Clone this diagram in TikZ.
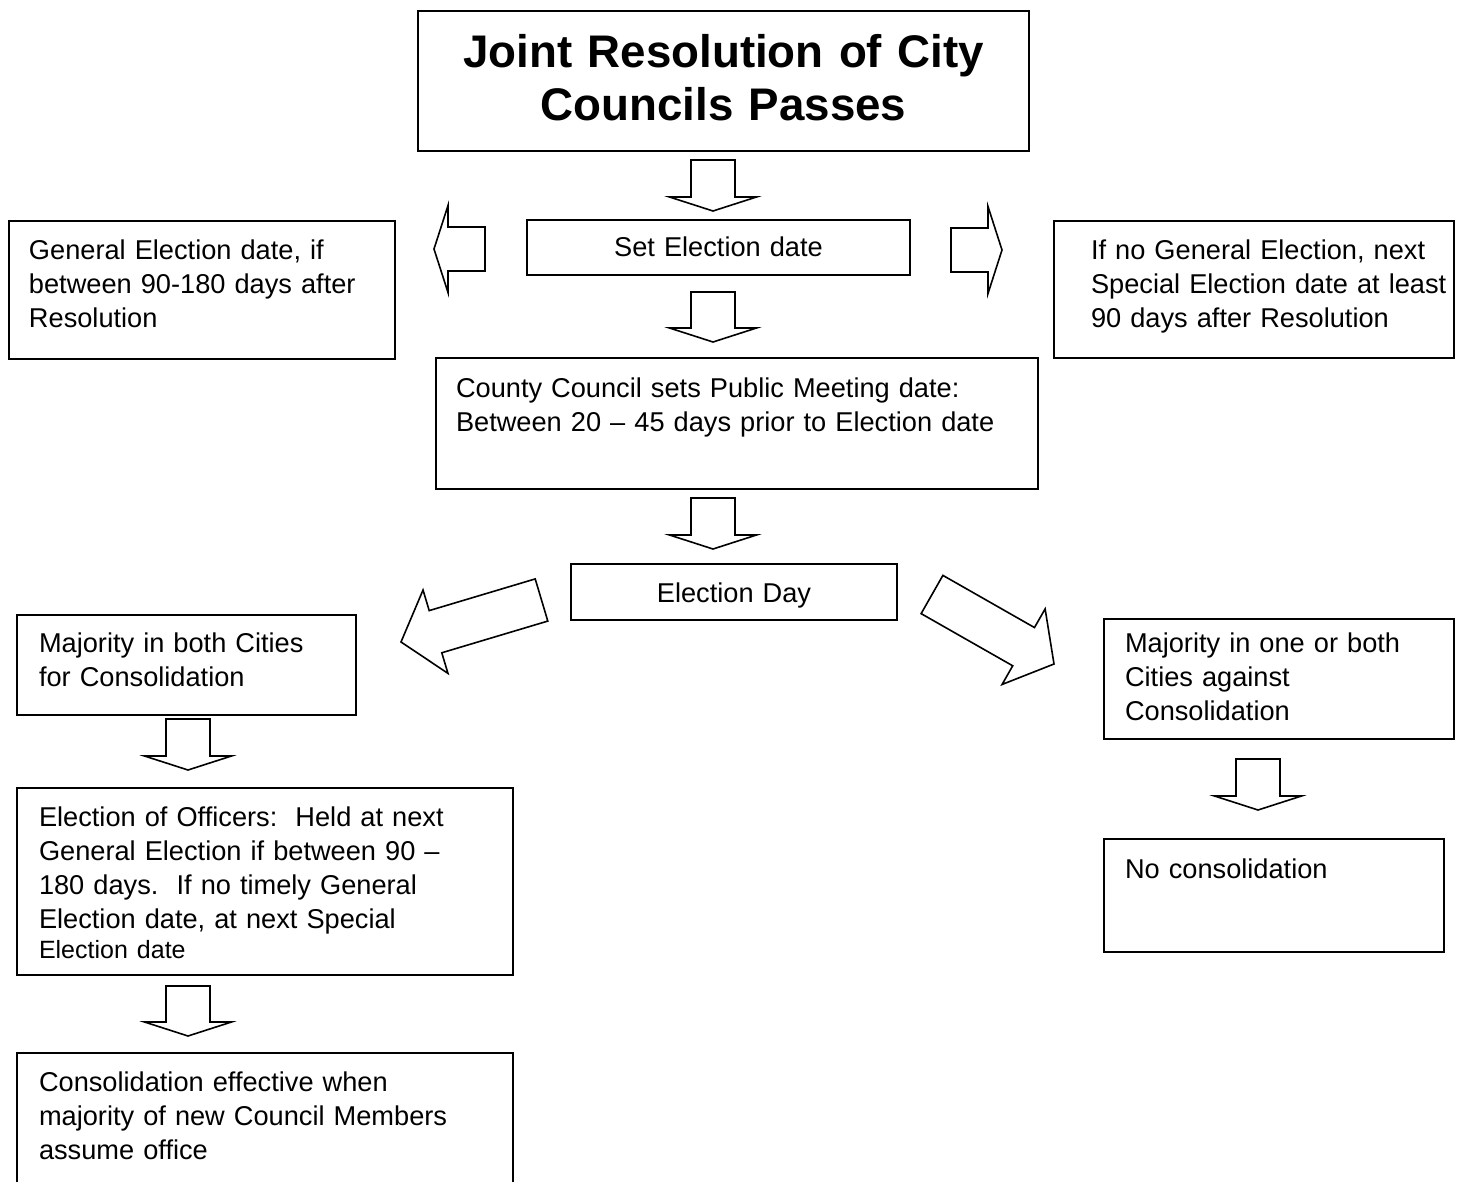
\documentclass[tikz,border=0pt]{standalone}
\usepackage{fontspec}
\setmainfont{Liberation Sans}
\usetikzlibrary{calc}
\newcommand{\bodyfont}{\fontsize{27.2}{34}\selectfont}
\newcommand{\titlefont}{\fontsize{45.7}{53}\selectfont\bfseries}
\tikzset{
  box/.style={draw,line width=2pt,anchor=north west,inner sep=0pt,font=\bodyfont},
  ltxt/.style n args={4}{box,align=left,text width=#1pt,text height=#2pt,text depth=#3pt,
    execute at begin node={\leftskip=#4pt\relax}},
  ctxt/.style n args={3}{box,align=center,text width=#1pt,text height=#2pt,text depth=#3pt},
  blockarrow/.style={draw,line width=1.6pt,fill=white}
}
% hollow block arrow: tail #2, tip #3, head length #1
\newcommand{\bigarrow}[3][14]{%
  \coordinate (hb) at ($(#3)!#1pt!(#2)$);
  \draw[blockarrow] ($(#2)!22pt!90:(#3)$) -- ($(hb)!22pt!90:(#3)$) -- ($(hb)!43.5pt!90:(#3)$)
    -- (#3) -- ($(hb)!43.5pt!-90:(#3)$) -- ($(hb)!22pt!-90:(#3)$) -- ($(#2)!22pt!-90:(#3)$) -- cycle;}

\begin{document}
\begin{tikzpicture}[x=1pt,y=-1pt]
  \useasboundingbox (0,0) rectangle (1459,1182);

  \node[ctxt={611}{57}{83},font=\titlefont] (title) at (417,10) {Joint Resolution of City\\Councils Passes};
  \node[ctxt={383}{37}{18}] (setdate) at (526,219) {Set Election date};
  \node[ltxt={386}{39}{99}{20}] (general) at (8,220)
    {General Election date, if\\between 90-180 days after\\Resolution};
  \node[ltxt={400}{39}{98}{37}] (special) at (1053,220)
    {If no General Election, next\\Special Election date at least\\90 days after Resolution};
  \node[ltxt={602}{39}{92}{20}] (county) at (435,357)
    {County Council sets Public Meeting date:\\Between 20 – 45 days prior to Election date};
  \node[ctxt={326}{38}{18}] (elday) at (570,563) {Election Day};
  \node[ltxt={339}{37}{63}{22}] (majfor) at (16,614)
    {Majority in both Cities\\for Consolidation};
  \node[ltxt={350}{33}{87}{21}] (majagainst) at (1103,618)
    {Majority in one or both\\Cities against\\Consolidation};
  \node[ltxt={496}{38}{149}{22}] (officers) at (16,787)
    {Election of Officers:\ \ Held at next\\General Election if between 90 –\\180 days.\ \ If no timely General\\Election date, at next Special\\[-4pt]{\fontsize{25}{30}\selectfont Election date}};
  \node[ltxt={496}{38}{102}{22}] (effective) at (16,1052)
    {Consolidation effective when\\majority of new Council Members\\assume office};
  \node[ltxt={340}{39}{74}{21}] (nocons) at (1103,838) {No consolidation};

  % arrow ends
  \foreach \name/\x/\y in {T-1/713/160, H-1/713/211, T-2/713/292, H-2/713/342,
                           T-3/485/249, H-3/434/249, T-4/951/250, H-4/1002/250,
                           T-5/713/498, H-5/713/549, T-6/541.5/600, H-6/401/642,
                           T-7/932/594.5, H-7/1054/664, T-8/188/719, H-8/188/770,
                           T-9/188/986, H-9/188/1036, T-10/1258/759, H-10/1258/810}
    \coordinate (\name) at (\x,\y);
  \foreach \n/\hd in {1/14, 2/14, 3/14, 4/14, 5/14, 6/36, 7/35, 8/14, 9/14, 10/14}
    {\bigarrow[\hd]{T-\n}{H-\n}}
\end{tikzpicture}
\end{document}
